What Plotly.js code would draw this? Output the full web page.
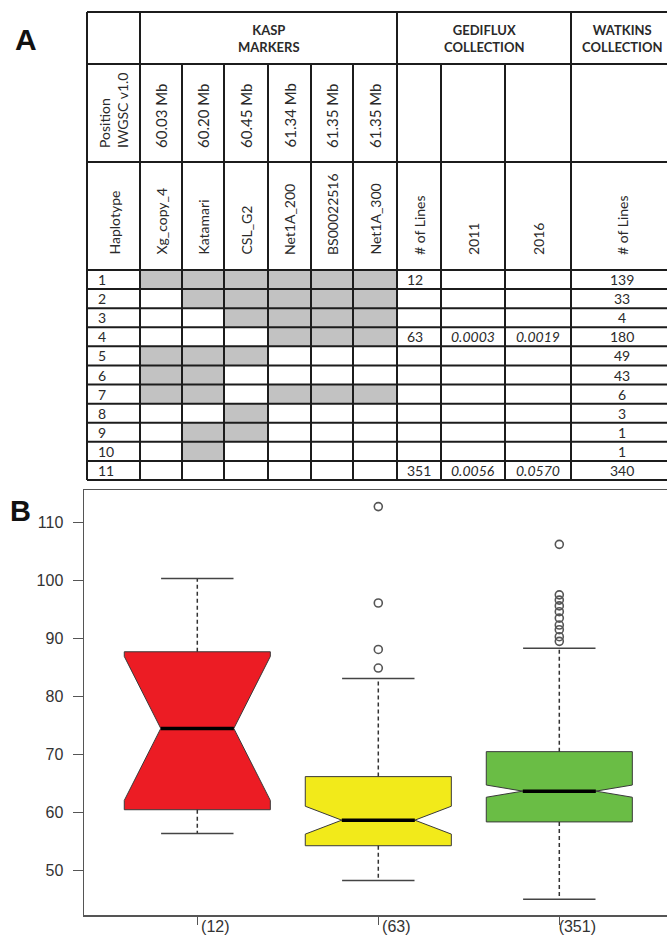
<!DOCTYPE html>
<html><head><meta charset="utf-8">
<script src="https://cdn.plot.ly/plotly-3.0.1.min.js"></script>
<style>html,body{margin:0;padding:0;overflow:hidden;background:#fff}#chart{width:700px;height:936px}</style>
</head><body><div id="chart"></div>
<script>
// ---------------- DATA ----------------
// Panel A: haplotype table
const haplotypes = ['1','2','3','4','5','6','7','8','9','10','11'];
const markers = ['Xg_copy_4','Katamari','CSL_G2','Net1A_200','BS00022516','Net1A_300'];
const markerPositions = ['60.03 Mb','60.20 Mb','60.45 Mb','61.34 Mb','61.35 Mb','61.35 Mb'];
const alleles = [
  [1,1,1,1,1,1],
  [0,1,1,1,1,1],
  [0,0,1,1,1,1],
  [0,0,0,1,1,1],
  [1,1,1,0,0,0],
  [1,1,0,0,0,0],
  [1,1,0,1,1,1],
  [0,0,1,0,0,0],
  [0,1,1,0,0,0],
  [0,1,0,0,0,0],
  [0,0,0,0,0,0]
];
const gedifluxLines = ['12','','','63','','','','','','','351'];
const p2011 = ['','','','0.0003','','','','','','','0.0056'];
const p2016 = ['','','','0.0019','','','','','','','0.0570'];
const watkinsLines = ['139','33','4','180','49','43','6','3','1','1','340'];
const groupHeaders = ['KASP<br>MARKERS','GEDIFLUX<br>COLLECTION','WATKINS<br>COLLECTION'];
const gedifluxCols = ['# of Lines','2011','2016'];
const watkinsCols = ['# of Lines'];

// Panel B: box plot
const groups = ['(12)','(63)','(351)'];
const q1 = [60.5, 54.3, 58.4];
const med = [74.5, 58.7, 63.7];
const q3 = [87.7, 66.2, 70.5];
const lowerWhisker = [56.4, 48.3, 45.1];
const upperWhisker = [100.3, 83.1, 88.3];
const notchSpan = [12.4, 2.4, 1.05];
const outliers = [
  [],
  [112.7, 96.1, 88.1, 84.9],
  [106.2, 97.5, 96.6, 95.6, 94.6, 93.5, 92.3, 91.5, 90.3, 89.5]
];

// ---------------- STYLE / LAYOUT CONSTANTS ----------------
const W = 700, H = 936;
const FONT = 'Lato, Carlito, Calibri, sans-serif';
const TXT = '#2a2a2a';
const colEdges = [87,140,182,224,268,311,353,397,441,505,571,673];
const headerEdges = [12,64,162,270];
const rowH = 19.09;
const dataRowEdges = [headerEdges[3]];
for (let i = 0; i < haplotypes.length; i++) dataRowEdges.push(headerEdges[3] + (i+1)*rowH);
const tableBottom = dataRowEdges[dataRowEdges.length-1];
const GRID = {color:'#1c1c1c', width:2};

const shapes = [];
const annotations = [];
function hline(y, x0, x1){ shapes.push({type:'line', xref:'x2', yref:'y2', x0:x0, x1:x1, y0:y, y1:y, line:GRID}); }
function vline(x, y0, y1){ shapes.push({type:'line', xref:'x2', yref:'y2', x0:x, x1:x, y0:y0, y1:y1, line:GRID}); }
function ann(text, x, y, opts){
  annotations.push(Object.assign({text:text, x:x, y:y, xref:'x2', yref:'y2', showarrow:false,
    font:{family:FONT, size:14, color:TXT}}, opts||{}));
}
const mid = (a,b) => (a+b)/2;
const L = colEdges[0], R = colEdges[colEdges.length-1];

// grid
headerEdges.slice(0,3).forEach(y => hline(y, L, R));
dataRowEdges.forEach(y => hline(y, L, R));
const spanTop = [0,1,7,10,11];
colEdges.forEach((x,i) => vline(x, spanTop.includes(i) ? headerEdges[0] : headerEdges[1], tableBottom));

// header row 1
const groupSpans = [[1,7],[7,10],[10,11]];
groupHeaders.forEach((t,i) => ann(t, mid(colEdges[groupSpans[i][0]], colEdges[groupSpans[i][1]]), mid(headerEdges[0], headerEdges[1]),
  {font:{family:FONT, size:13, color:TXT, weight:'bold'}, yanchor:'middle'}));

// header row 2 (rotated)
const rot2 = {textangle:-90, yanchor:'bottom', xanchor:'center', align:'left'};
ann('Position<br>IWGSC v1.0', mid(colEdges[0], colEdges[1]), headerEdges[2]-12, rot2);
markerPositions.forEach((t,i) => ann(t, mid(colEdges[i+1], colEdges[i+2]), headerEdges[2]-12,
  Object.assign({}, rot2, {font:{family:FONT, size:15, color:TXT}})));

// header row 3 (rotated)
const row3 = ['Haplotype'].concat(markers, gedifluxCols, watkinsCols);
row3.forEach((t,i) => ann(t, mid(colEdges[i], colEdges[i+1]), headerEdges[3]-13, rot2));

// data rows
haplotypes.forEach((h,r) => {
  const yc = mid(dataRowEdges[r], dataRowEdges[r+1]);
  ann(h, colEdges[0]+9, yc, {xanchor:'left', yanchor:'middle'});
  if (gedifluxLines[r]) ann(gedifluxLines[r], colEdges[7]+8, yc, {xanchor:'left', yanchor:'middle'});
  if (p2011[r]) ann('<i>'+p2011[r]+'</i>', mid(colEdges[8], colEdges[9]), yc, {yanchor:'middle'});
  if (p2016[r]) ann('<i>'+p2016[r]+'</i>', mid(colEdges[9], colEdges[10]), yc, {yanchor:'middle'});
  ann(watkinsLines[r], mid(colEdges[10], colEdges[11]), yc, {yanchor:'middle'});
});

// panel letters
ann('A', 26, 39, {font:{family:'Liberation Sans, Arial, sans-serif', size:30, color:'#111', weight:'bold'}, yanchor:'middle'});
ann('B', 20.5, 511, {font:{family:'Liberation Sans, Arial, sans-serif', size:29, color:'#111', weight:'bold'}, yanchor:'middle'});

// ---------------- TRACES ----------------
const traces = [];
// gray allele cells
traces.push({type:'heatmap', xaxis:'x2', yaxis:'y2',
  x: colEdges.slice(1,8), y: dataRowEdges, z: alleles,
  zmin:0, zmax:1, colorscale:[[0,'#ffffff'],[1,'#c2c2c2']], showscale:false, hoverinfo:'skip'});

const boxColors = ['#ec1c24','#f2ea1a','#6abd45'];
const pos = groups.map((g,i) => i+1);
const BOXW = 0.807, NOTCHW = 0.25, CAPW = 0.4;
const AX = '#555';
groups.forEach((g,i) => {
  traces.push({type:'box', orientation:'v', x:[pos[i]], q1:[q1[i]], median:[med[i]], q3:[q3[i]],
    lowerfence:[q1[i]], upperfence:[q3[i]], notchspan:[notchSpan[i]], notched:true, notchwidth:NOTCHW,
    width:BOXW, whiskerwidth:0, fillcolor:boxColors[i], line:{color:'#3a3a3a', width:1},
    boxpoints:false, hoverinfo:'skip'});
  // whiskers (dashed)
  traces.push({type:'scatter', mode:'lines', x:[pos[i],pos[i],null,pos[i],pos[i]],
    y:[q3[i],upperWhisker[i],null,q1[i],lowerWhisker[i]],
    line:{color:'#333', width:1.5, dash:'4px,3px'}, hoverinfo:'skip'});
  // caps
  traces.push({type:'scatter', mode:'lines',
    x:[pos[i]-CAPW/2,pos[i]+CAPW/2,null,pos[i]-CAPW/2,pos[i]+CAPW/2],
    y:[upperWhisker[i],upperWhisker[i],null,lowerWhisker[i],lowerWhisker[i]],
    line:{color:'#444', width:1.5}, hoverinfo:'skip'});
  // median
  const mh = BOXW/2*(1-2*NOTCHW);
  traces.push({type:'scatter', mode:'lines', x:[pos[i]-mh,pos[i]+mh], y:[med[i],med[i]],
    line:{color:'#000', width:3.5}, hoverinfo:'skip'});
  // outliers
  if (outliers[i].length) traces.push({type:'scatter', mode:'markers', x:outliers[i].map(() => pos[i]), y:outliers[i],
    marker:{symbol:'circle-open', size:8, color:'#555', line:{width:1.6, color:'#555'}}, hoverinfo:'skip'});
});

const plotLeft = 84, plotTop = 490, plotBottom = 915;
const pxPerUnit = 181;
const xr0 = pos[0] - (197.3 - plotLeft)/pxPerUnit;
const xr1 = xr0 + (W - plotLeft)/pxPerUnit;

const layout = {
  width:W, height:H, margin:{l:0,r:0,t:0,b:0},
  paper_bgcolor:'#fff', plot_bgcolor:'rgba(0,0,0,0)', showlegend:false,
  xaxis:{domain:[plotLeft/W,1], range:[xr0,xr1], showline:true, mirror:true, linecolor:AX, linewidth:1.5,
    tickmode:'array', tickvals:pos, ticktext:groups, ticks:'outside', ticklen:8, tickcolor:AX, tickwidth:1.5,
    showgrid:false, zeroline:false, ticklabelshift:18, ticklabelstandoff:-12,
    tickfont:{family:'Liberation Sans, Arial, sans-serif', size:16, color:'#333'}, fixedrange:true},
  yaxis:{domain:[(H-plotBottom)/H, (H-plotTop)/H], range:[42.37,115.56], showline:true, linecolor:AX, linewidth:1.5,
    dtick:10, tick0:50, ticks:'outside', ticklen:10, tickcolor:AX, tickwidth:1.5, showgrid:false, zeroline:false,
    ticklabelstandoff:6,
    tickfont:{family:'Liberation Sans, Arial, sans-serif', size:16, color:'#333'}, fixedrange:true},
  xaxis2:{domain:[0,1], range:[0,W], visible:false, anchor:'y2', fixedrange:true},
  yaxis2:{domain:[0,1], range:[H,0], visible:false, anchor:'x2', fixedrange:true},
  shapes:shapes, annotations:annotations
};
Plotly.newPlot('chart', traces, layout, {staticPlot:true, displayModeBar:false});
</script></body></html>
